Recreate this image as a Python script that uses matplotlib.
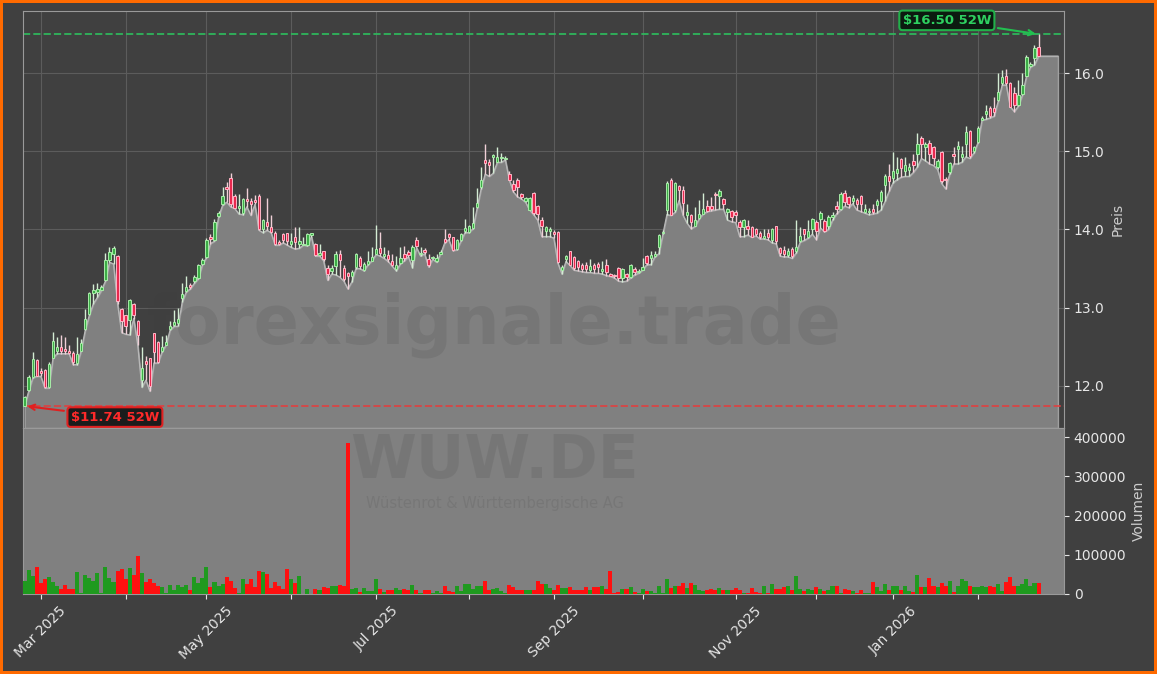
import numpy as np
import pandas as pd
import matplotlib
matplotlib.use('Agg')
import matplotlib.pyplot as plt
from matplotlib.ticker import MultipleLocator

# Xetra trading days, Feb 2025 - Feb 2026
holidays = ['2025-04-18', '2025-04-21', '2025-05-01', '2025-12-24',
            '2025-12-25', '2025-12-26', '2025-12-31', '2026-01-01']
dates = pd.bdate_range('2025-02-25', '2026-02-23')
dates = dates[~dates.isin(pd.to_datetime(holidays))]

open_ = [11.74, 11.94, 12.11, 12.33, 12.19, 12.20, 11.98, 12.36, 12.45, 12.50,
         12.47, 12.45, 12.42, 12.29, 12.45, 12.72, 12.92, 13.19, 13.20, 13.22,
         13.35, 13.61, 13.68, 13.66, 12.98, 12.90, 12.84, 13.05, 12.83, 12.07,
         12.31, 12.35, 12.67, 12.56, 12.45, 12.52, 12.72, 12.78, 12.80, 13.12,
         13.21, 13.29, 13.34, 13.38, 13.56, 13.65, 13.91, 13.86, 14.17, 14.32,
         14.55, 14.66, 14.43, 14.27, 14.21, 14.39, 14.36, 14.38, 14.43, 14.01,
         14.10, 14.03, 13.95, 13.84, 13.94, 13.95, 13.82, 13.90, 13.82, 13.80,
         13.80, 13.93, 13.81, 13.67, 13.72, 13.51, 13.47, 13.53, 13.69, 13.51,
         13.44, 13.41, 13.52, 13.64, 13.48, 13.56, 13.60, 13.68, 13.76, 13.66,
         13.67, 13.60, 13.50, 13.57, 13.68, 13.71, 13.61, 13.87, 13.68, 13.74,
         13.62, 13.63, 13.60, 13.69, 13.88, 13.94, 13.90, 13.75, 13.86, 13.98,
         13.97, 14.02, 14.29, 14.55, 14.89, 14.86, 14.93, 14.87, 14.91, 14.90,
         14.71, 14.58, 14.64, 14.45, 14.36, 14.25, 14.47, 14.30, 14.12, 13.98,
         13.98, 13.97, 13.97, 13.48, 13.62, 13.72, 13.65, 13.60, 13.55, 13.54,
         13.48, 13.54, 13.56, 13.47, 13.55, 13.43, 13.42, 13.51, 13.38, 13.43,
         13.39, 13.50, 13.45, 13.48, 13.66, 13.63, 13.66, 13.77, 13.95, 14.25,
         14.64, 14.25, 14.56, 14.50, 14.18, 14.18, 14.05, 14.15, 14.20, 14.30,
         14.30, 14.46, 14.43, 14.39, 14.23, 14.24, 14.23, 14.10, 14.03, 14.05,
         14.03, 14.00, 13.96, 13.89, 13.95, 13.86, 14.04, 13.76, 13.74, 13.67,
         13.75, 13.72, 13.85, 14.00, 13.90, 14.00, 14.10, 14.14, 14.11, 14.04,
         14.16, 14.30, 14.26, 14.47, 14.42, 14.37, 14.38, 14.43, 14.23, 14.22,
         14.26, 14.31, 14.37, 14.57, 14.68, 14.66, 14.72, 14.90, 14.75, 14.76,
         14.88, 14.97, 15.17, 15.06, 15.11, 15.06, 14.80, 14.99, 14.65, 14.73,
         14.97, 15.03, 14.93, 15.10, 15.26, 15.00, 15.12, 15.40, 15.48, 15.56,
         15.55, 15.66, 15.88, 15.96, 15.87, 15.75, 15.60, 15.73, 15.97, 16.09,
         16.20, 16.34]

high = [11.87, 12.14, 12.43, 12.34, 12.22, 12.21, 12.30, 12.69, 12.62, 12.65,
        12.62, 12.52, 12.45, 12.62, 12.60, 12.98, 13.20, 13.30, 13.32, 13.29,
        13.70, 13.78, 13.79, 13.67, 13.00, 12.91, 13.11, 13.06, 12.84, 12.50,
        12.38, 12.36, 12.68, 12.57, 12.64, 12.65, 12.83, 12.97, 12.99, 13.31,
        13.40, 13.31, 13.42, 13.56, 13.64, 13.89, 13.94, 14.13, 14.24, 14.54,
        14.61, 14.72, 14.45, 14.46, 14.40, 14.53, 14.40, 14.44, 14.45, 14.14,
        14.40, 14.18, 13.98, 13.87, 13.95, 13.96, 13.96, 14.03, 14.03, 13.90,
        13.95, 13.96, 13.83, 13.82, 13.73, 13.55, 13.55, 13.72, 13.74, 13.55,
        13.46, 13.48, 13.70, 13.66, 13.58, 13.72, 13.77, 14.06, 13.97, 13.78,
        13.74, 13.68, 13.66, 13.77, 13.79, 13.74, 13.80, 13.90, 13.77, 13.76,
        13.68, 13.66, 13.68, 13.74, 14.00, 13.96, 13.91, 13.88, 13.96, 14.14,
        14.06, 14.29, 14.53, 14.80, 15.10, 14.90, 14.97, 15.06, 14.98, 14.94,
        14.75, 14.63, 14.66, 14.47, 14.42, 14.42, 14.48, 14.31, 14.16, 14.05,
        14.03, 13.99, 13.98, 13.54, 13.67, 13.73, 13.66, 13.61, 13.57, 13.58,
        13.62, 13.57, 13.58, 13.60, 13.62, 13.44, 13.43, 13.52, 13.51, 13.44,
        13.56, 13.52, 13.50, 13.63, 13.67, 13.72, 13.72, 13.94, 13.99, 14.62,
        14.66, 14.61, 14.57, 14.56, 14.33, 14.20, 14.29, 14.38, 14.47, 14.38,
        14.42, 14.48, 14.52, 14.40, 14.28, 14.25, 14.25, 14.12, 14.14, 14.12,
        14.04, 14.02, 13.98, 14.01, 14.01, 14.02, 14.05, 13.78, 13.79, 13.76,
        13.77, 14.12, 14.03, 14.00, 14.12, 14.15, 14.12, 14.24, 14.13, 14.18,
        14.22, 14.37, 14.48, 14.51, 14.43, 14.44, 14.40, 14.44, 14.33, 14.28,
        14.33, 14.39, 14.50, 14.71, 14.84, 14.99, 14.93, 14.92, 14.93, 14.85,
        14.97, 15.23, 15.20, 15.12, 15.15, 15.07, 14.90, 15.00, 14.67, 14.87,
        15.05, 15.13, 15.07, 15.33, 15.27, 15.07, 15.32, 15.45, 15.60, 15.58,
        15.70, 16.01, 16.04, 16.05, 15.89, 15.83, 15.92, 16.00, 16.23, 16.14,
        16.36, 16.50]

low = [11.74, 11.93, 12.10, 12.12, 12.12, 11.97, 11.97, 12.35, 12.41, 12.41,
       12.41, 12.41, 12.27, 12.27, 12.45, 12.71, 12.90, 13.05, 13.13, 13.22,
       13.34, 13.58, 13.56, 13.05, 12.68, 12.66, 12.65, 12.86, 12.52, 11.98,
       12.07, 11.93, 12.29, 12.29, 12.43, 12.52, 12.71, 12.76, 12.76, 13.07,
       13.20, 13.24, 13.31, 13.37, 13.55, 13.64, 13.82, 13.85, 14.16, 14.31,
       14.35, 14.29, 14.27, 14.20, 14.19, 14.29, 14.18, 14.32, 13.99, 13.96,
       13.99, 13.96, 13.80, 13.80, 13.83, 13.80, 13.77, 13.75, 13.76, 13.80,
       13.79, 13.91, 13.66, 13.66, 13.60, 13.35, 13.43, 13.42, 13.39, 13.34,
       13.24, 13.33, 13.50, 13.50, 13.47, 13.55, 13.60, 13.68, 13.66, 13.63,
       13.59, 13.53, 13.47, 13.56, 13.60, 13.65, 13.51, 13.77, 13.66, 13.69,
       13.52, 13.62, 13.58, 13.69, 13.83, 13.87, 13.73, 13.74, 13.85, 13.96,
       13.96, 14.01, 14.27, 14.52, 14.71, 14.68, 14.72, 14.86, 14.86, 14.89,
       14.63, 14.48, 14.42, 14.39, 14.35, 14.25, 14.19, 14.12, 13.91, 13.91,
       13.91, 13.89, 13.57, 13.43, 13.59, 13.54, 13.48, 13.47, 13.46, 13.45,
       13.45, 13.44, 13.44, 13.43, 13.41, 13.40, 13.38, 13.34, 13.33, 13.34,
       13.38, 13.42, 13.44, 13.48, 13.55, 13.55, 13.65, 13.69, 13.94, 14.19,
       14.18, 14.22, 14.37, 14.18, 14.08, 14.01, 14.04, 14.14, 14.20, 14.23,
       14.24, 14.25, 14.26, 14.26, 14.12, 14.10, 14.09, 13.91, 13.91, 13.93,
       13.90, 13.92, 13.88, 13.88, 13.87, 13.83, 13.82, 13.66, 13.65, 13.65,
       13.63, 13.70, 13.84, 13.86, 13.89, 13.94, 13.87, 14.02, 13.97, 14.00,
       14.12, 14.20, 14.25, 14.30, 14.28, 14.33, 14.25, 14.23, 14.21, 14.19,
       14.20, 14.21, 14.25, 14.36, 14.49, 14.60, 14.64, 14.67, 14.68, 14.68,
       14.73, 14.80, 14.91, 14.88, 14.84, 14.82, 14.77, 14.59, 14.52, 14.71,
       14.84, 14.84, 14.86, 14.93, 14.91, 14.98, 15.11, 15.40, 15.41, 15.43,
       15.45, 15.64, 15.85, 15.85, 15.57, 15.51, 15.58, 15.72, 15.96, 16.08,
       16.11, 16.22]

close = [11.86, 12.11, 12.34, 12.13, 12.16, 11.98, 12.28, 12.57, 12.50, 12.44,
         12.44, 12.42, 12.30, 12.40, 12.55, 12.85, 13.19, 13.22, 13.24, 13.26,
         13.61, 13.71, 13.76, 13.08, 12.83, 12.77, 13.10, 12.90, 12.65, 12.22,
         12.28, 12.00, 12.43, 12.30, 12.50, 12.56, 12.76, 12.82, 12.85, 13.18,
         13.26, 13.26, 13.39, 13.55, 13.61, 13.86, 13.88, 14.10, 14.21, 14.43,
         14.52, 14.32, 14.28, 14.30, 14.39, 14.36, 14.33, 14.35, 14.00, 14.12,
         14.05, 13.97, 13.81, 13.81, 13.86, 13.85, 13.85, 13.84, 13.85, 13.82,
         13.94, 13.96, 13.67, 13.70, 13.62, 13.43, 13.51, 13.69, 13.61, 13.36,
         13.40, 13.45, 13.68, 13.53, 13.56, 13.60, 13.65, 13.75, 13.70, 13.68,
         13.62, 13.55, 13.54, 13.63, 13.64, 13.67, 13.78, 13.79, 13.70, 13.71,
         13.55, 13.65, 13.64, 13.71, 13.84, 13.90, 13.74, 13.86, 13.94, 14.02,
         14.04, 14.08, 14.34, 14.64, 14.85, 14.83, 14.96, 14.93, 14.93, 14.92,
         14.63, 14.50, 14.55, 14.41, 14.40, 14.40, 14.21, 14.20, 14.04, 14.03,
         14.01, 13.94, 13.58, 13.52, 13.66, 13.55, 13.51, 13.52, 13.50, 13.49,
         13.53, 13.50, 13.52, 13.50, 13.45, 13.41, 13.40, 13.38, 13.50, 13.39,
         13.55, 13.45, 13.47, 13.52, 13.57, 13.67, 13.68, 13.93, 13.97, 14.59,
         14.18, 14.60, 14.50, 14.34, 14.22, 14.10, 14.12, 14.20, 14.26, 14.24,
         14.26, 14.44, 14.49, 14.33, 14.26, 14.16, 14.19, 14.03, 14.12, 14.00,
         13.91, 13.94, 13.90, 13.92, 13.90, 14.00, 13.85, 13.70, 13.68, 13.72,
         13.66, 13.77, 13.92, 13.94, 13.98, 14.14, 13.98, 14.21, 13.98, 14.16,
         14.19, 14.26, 14.46, 14.35, 14.33, 14.40, 14.33, 14.32, 14.26, 14.24,
         14.22, 14.37, 14.48, 14.69, 14.62, 14.75, 14.78, 14.79, 14.82, 14.80,
         14.82, 15.10, 15.10, 15.10, 14.97, 14.91, 14.88, 14.62, 14.63, 14.85,
         14.94, 15.07, 14.97, 15.25, 14.94, 15.05, 15.30, 15.43, 15.52, 15.45,
         15.50, 15.76, 15.95, 15.88, 15.57, 15.60, 15.72, 15.85, 16.21, 16.12,
         16.33, 16.22]

# volume in thousand shares
volume_k = [34, 62, 47, 70, 28, 39, 44, 31, 20, 13,
            24, 14, 14, 57, 3, 49, 41, 34, 54, 2,
            70, 42, 31, 59, 65, 37, 67, 49, 98, 54,
            31, 37, 29, 20, 19, 2, 24, 11, 24, 19,
            24, 11, 44, 29, 42, 70, 19, 31, 21, 26,
            44, 34, 16, 2, 37, 26, 39, 19, 59, 57,
            52, 16, 31, 21, 14, 65, 39, 29, 47, 1,
            14, 1, 14, 11, 19, 16, 21, 21, 24, 21,
            385, 14, 16, 6, 16, 8, 8, 39, 14, 4,
            11, 11, 16, 11, 14, 11, 24, 11, 2, 11,
            11, 2, 8, 2, 21, 8, 6, 21, 8, 26,
            26, 14, 21, 21, 34, 11, 14, 16, 8, 2,
            24, 19, 11, 11, 11, 11, 11, 34, 26, 26,
            16, 11, 24, 16, 16, 19, 11, 11, 11, 18,
            11, 19, 19, 21, 14, 59, 2, 6, 14, 14,
            19, 6, 2, 14, 8, 8, 2, 21, 2, 39,
            16, 21, 21, 29, 16, 29, 24, 11, 8, 11,
            14, 11, 16, 11, 11, 11, 16, 11, 3, 2,
            16, 6, 2, 21, 2, 26, 14, 14, 19, 21,
            11, 47, 14, 8, 14, 11, 19, 14, 8, 11,
            21, 21, 2, 14, 11, 8, 2, 11, 2, 2,
            31, 19, 8, 26, 11, 21, 21, 11, 21, 8,
            6, 49, 19, 19, 42, 21, 19, 29, 21, 34,
            5, 21, 37, 34, 21, 19, 19, 21, 19, 21,
            19, 26, 8, 31, 44, 21, 21, 26, 37, 21,
            29, 28]

o = np.array(open_)
h = np.array(high)
l = np.array(low)
c = np.array(close)
vol = np.array(volume_k) * 1000
x = np.arange(len(dates))
up = c >= o

BG = '#404040'
FILL = '#808080'
TXT = '#e6e6e6'

fig = plt.figure(figsize=(11.57, 6.74), dpi=100, facecolor=BG)
ax = fig.add_axes([0.0199, 0.365, 0.8997, 0.6186])
axv = fig.add_axes([0.0199, 0.1187, 0.8997, 0.2463], sharex=ax)

ax.set_facecolor(BG)
axv.set_facecolor(FILL)

ymin = l.min() * 0.976
ymax = h.max() * 1.018

# grey area under the lows, carried a few days past the last candle
xf = np.append(x, x[-1] + 4.8)
yf = np.append(l, l[-1])
ax.fill_between(xf, yf, ymin, color=FILL, edgecolor='#a0a0a0', lw=1, zorder=1)
ax.plot(xf, yf, color='#b8b8b8', lw=0.9, zorder=1.2)

# candles
wick_col = np.where(up, '#d4ecd4', '#f0d0d8')
body_face = np.where(up, '#3cae47', '#e8294f')
body_edge = np.where(up, '#a8eca8', '#ffb6c6')
ax.vlines(x, l, h, colors=wick_col, lw=1, zorder=3)
body_h = np.maximum(np.abs(c - o), 0.012)
ax.bar(x, body_h, bottom=np.minimum(o, c), width=0.6, color=body_face,
       edgecolor=body_edge, lw=0.7, zorder=4)

# 52 week high / low
i_lo = int(np.argmin(l))
i_hi = int(np.argmax(h))
ax.axhline(l[i_lo], color='#e04040', ls='--', lw=1.4, alpha=0.85, zorder=2)
ax.axhline(h[i_hi], color='#2eb85c', ls='--', lw=1.4, alpha=0.9, zorder=2)
ax.annotate(f'${l[i_lo]:.2f} 52W', xy=(x[i_lo], l[i_lo]), xytext=(65, -8),
            textcoords='offset points', ha='center', va='center',
            color='#ff2a2a', fontsize=9.5, fontweight='bold',
            bbox=dict(boxstyle='round,pad=0.25', fc='#1c1c1c', ec='#e02020', lw=1.5),
            arrowprops=dict(arrowstyle='->', color='#e02020', lw=1.5), zorder=6)
ax.annotate(f'${h[i_hi]:.2f} 52W', xy=(x[i_hi], h[i_hi]), xytext=(-66, 10),
            textcoords='offset points', ha='center', va='center',
            color='#2ed060', fontsize=9.5, fontweight='bold',
            bbox=dict(boxstyle='round,pad=0.25', fc='#0c1a10', ec='#22b04a', lw=1.5),
            arrowprops=dict(arrowstyle='->', color='#22c050', lw=1.5), zorder=6)

ax.text(0.453, 0.247, 'forexsignale.trade', transform=ax.transAxes,
        fontsize=48, fontweight='bold', color='#3a3a3a', alpha=0.14,
        ha='center', va='center', zorder=1.5)

ax.set_ylim(ymin, ymax)
ax.set_xlim(-0.4, len(x) + 5.3)
ax.yaxis.set_major_locator(MultipleLocator(1.0))
ax.yaxis.set_major_formatter(plt.FormatStrFormatter('%.1f'))
ax.yaxis.tick_right()
ax.yaxis.set_label_position('right')
ax.set_ylabel('Preis', color='#cccccc', fontsize=10)
ax.tick_params(axis='y', colors=TXT, labelsize=10)
ax.tick_params(axis='x', length=0, labelbottom=False)
ax.grid(True, color='#5c5c5c', lw=0.8, zorder=0)
ax.set_axisbelow(True)

# volume
vcol = np.where(up, '#1f9a1f', '#ff1010')
axv.bar(x, vol, width=1.0, color=vcol, zorder=3)
axv.set_ylim(0, vol.max() * 1.1)
axv.yaxis.tick_right()
axv.yaxis.set_label_position('right')
axv.ticklabel_format(axis='y', style='plain')
axv.yaxis.set_major_locator(MultipleLocator(100000))
axv.set_ylabel('Volumen', color='#cccccc', fontsize=10)
axv.tick_params(axis='y', colors=TXT, labelsize=10)
axv.text(0.453, 0.80, 'WUW.DE', transform=axv.transAxes, fontsize=43,
         fontweight='bold', color='#3a3a3a', alpha=0.13, ha='center',
         va='center', zorder=1)
axv.text(0.453, 0.545, 'Wüstenrot & Württembergische AG', transform=axv.transAxes,
         fontsize=10.5, color='#3a3a3a', alpha=0.13, ha='center', va='center',
         zorder=1)

# month ticks on first trading day, every other month labelled
month_start = [i for i in range(1, len(dates)) if dates[i].month != dates[i - 1].month]
labels = [dates[i].strftime('%b %Y') if dates[i].month % 2 == 1 else '' for i in month_start]
axv.set_xticks(month_start)
axv.set_xticklabels(labels, rotation=45, ha='center', color=TXT, fontsize=10)
axv.tick_params(axis='x', colors=TXT)

for a in (ax, axv):
    for s in a.spines.values():
        s.set_color('#9a9a9a')

fig.patch.set_edgecolor('#ff6a00')
fig.patch.set_linewidth(4)
fig.savefig('out.png', dpi=100, facecolor=fig.get_facecolor(),
            edgecolor=fig.get_edgecolor())
